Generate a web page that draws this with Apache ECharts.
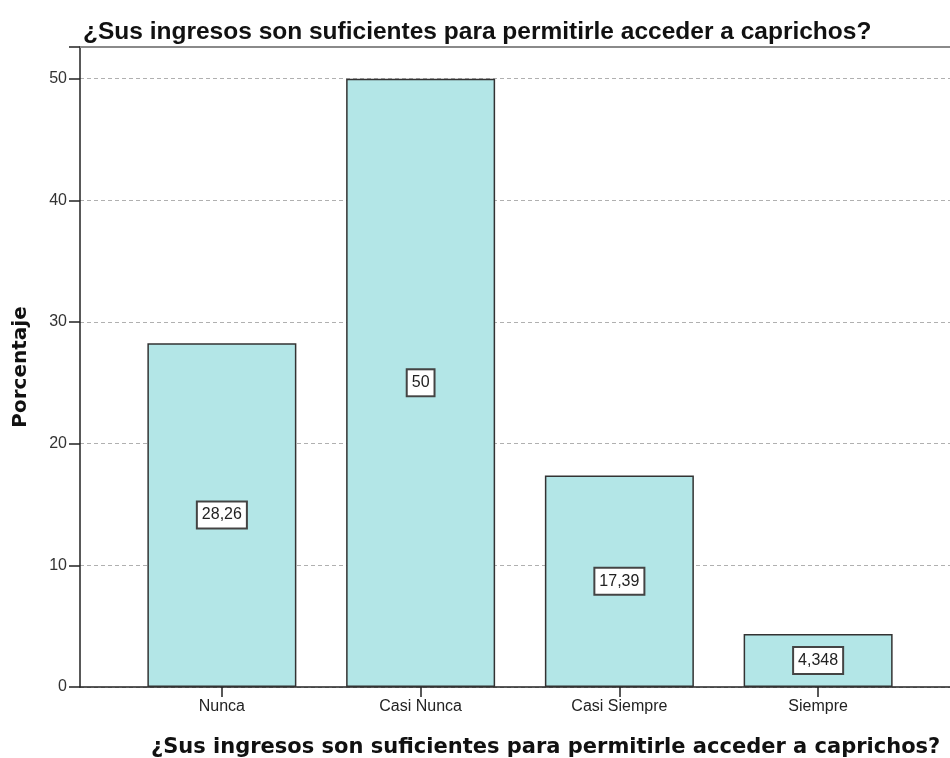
<!DOCTYPE html>
<html><head><meta charset="utf-8">
<script src="https://cdn.jsdelivr.net/npm/echarts@6/dist/echarts.min.js"></script>
<style>html,body{margin:0;padding:0;background:#fff}#c{width:950px;height:758px}</style>
</head><body><div id="c"></div>
<script>
const categories = ['Nunca', 'Casi Nunca', 'Casi Siempre', 'Siempre'];
const values = [28.26, 50, 17.39, 4.348];
const valueLabels = ['28,26', '50', '17,39', '4,348'];
const yTicks = [0, 10, 20, 30, 40, 50];
const titleText = '¿Sus ingresos son suficientes para permitirle acceder a caprichos?';
const xTitle = '¿Sus ingresos son suficientes para permitirle acceder a caprichos?';
const yTitle = 'Porcentaje';

const chart = echarts.init(document.getElementById('c'), null, {renderer: 'canvas'});
const TOP = 47, BOTTOM = 758 - 687;
const YMAX = 52.6;
chart.setOption({
  animation: false,
  backgroundColor: '#fff',
  title: [{
    text: titleText, left: 78, top: 15,
    textStyle: {fontFamily: 'Liberation Sans', fontWeight: 'bold', fontSize: 24.5, color: '#111'}
  }, {
    text: xTitle, left: 146, top: 732,
    textStyle: {fontFamily: 'DejaVu Sans', fontWeight: 'bold', fontSize: 21, color: '#111'}
  }],
  grid: [
    {left: 80, right: 0, top: TOP, bottom: BOTTOM},
    {left: 122.5, right: 950 - 917.5, top: TOP, bottom: BOTTOM}
  ],
  graphic: [{
    type: 'line', shape: {x1: 80, y1: TOP, x2: 950, y2: TOP},
    style: {stroke: '#8a8a8a', lineWidth: 2}, z: 10
  }, {
    type: 'text', rotation: Math.PI / 2,
    x: 21, y: 367,
    style: {text: yTitle, fontFamily: 'DejaVu Sans', fontWeight: 'bold', fontSize: 20, fill: '#111',
            textAlign: 'center', textVerticalAlign: 'middle'}
  }],
  xAxis: [
    {gridIndex: 0, type: 'value', min: 0, max: 1, show: true,
     axisLine: {show: true, onZero: false, lineStyle: {color: '#222', width: 1.5}},
     axisTick: {show: false}, axisLabel: {show: false}, splitLine: {show: false}},
    {gridIndex: 1, type: 'category', data: categories,
     axisLine: {show: false}, axisTick: {show: true, alignWithLabel: true, length: 10, lineStyle: {color: '#222', width: 1.5}},
     axisLabel: {fontFamily: 'Liberation Sans', fontSize: 16, color: '#222', margin: 12}}
  ],
  yAxis: [
    {gridIndex: 0, type: 'value', min: 0, max: YMAX, interval: 10,
     axisLine: {show: true, lineStyle: {color: '#222', width: 1.5}},
     axisTick: {show: true, length: 11, lineStyle: {color: '#222', width: 1.5}},
     axisLabel: {fontFamily: 'Liberation Sans', fontSize: 16, color: '#333', margin: 13,
       formatter: v => yTicks.includes(v) ? String(v) : ''},
     splitLine: {show: true, lineStyle: {color: '#b0b0b0', type: [4, 3], width: 1}}},
    {gridIndex: 1, type: 'value', min: 0, max: YMAX, show: false}
  ],
  series: [{
    type: 'bar', xAxisIndex: 1, yAxisIndex: 1,
    data: values, barWidth: 149,
    itemStyle: {color: '#b3e6e7', borderColor: '#333', borderWidth: 1.5},
    label: {
      show: true, position: 'inside',
      formatter: p => valueLabels[p.dataIndex],
      fontFamily: 'Liberation Sans', fontSize: 16, color: '#222',
      backgroundColor: '#fff', borderColor: '#444', borderWidth: 2,
      padding: [5, 4, 4, 4]
    }
  }]
});
</script></body></html>
